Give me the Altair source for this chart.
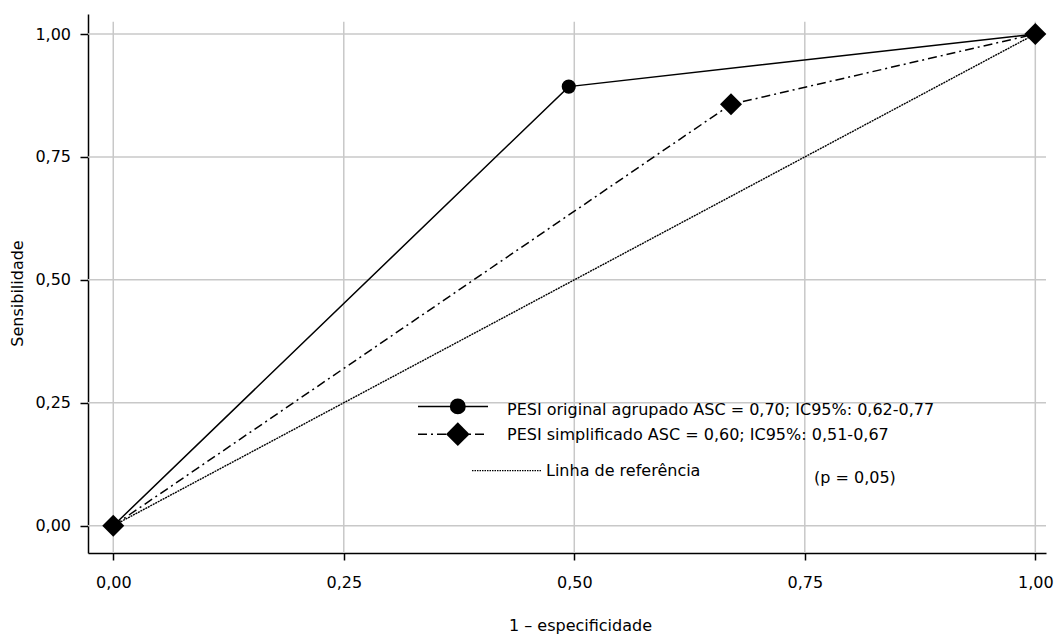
import altair as alt
import pandas as pd

# ---- data ----
x_original = [0.0, 0.494, 1.0]
y_original = [0.0, 0.893, 1.0]
x_simplificado = [0.0, 0.67, 1.0]
y_simplificado = [0.0, 0.857, 1.0]
x_referencia = [0.0, 1.0]
y_referencia = [0.0, 1.0]
ticks = [0.0, 0.25, 0.5, 0.75, 1.0]
legend_labels = [
    "PESI original agrupado ASC = 0,70; IC95%: 0,62-0,77",
    "PESI simplificado ASC = 0,60; IC95%: 0,51-0,67",
    "Linha de referência",
]
note_text = "(p = 0,05)"
x_title = "1 – especificidade"
y_title = "Sensibilidade"

FONT = "DejaVu Sans"
W, H = 958, 539
X_DOMAIN = [-0.0274, 1.0116]
Y_DOMAIN = [-0.0555, 1.0407]

df_o = pd.DataFrame({"x": x_original, "y": y_original})
df_s = pd.DataFrame({"x": x_simplificado, "y": y_simplificado})
df_r = pd.DataFrame({"x": x_referencia, "y": y_referencia})
df_tx = pd.DataFrame({"x": ticks})
df_ty = pd.DataFrame({"y": ticks})
one = pd.DataFrame({"k": [0]})

label_expr = "replace(format(datum.value, '.2f'), '.', ',')"

xaxis = alt.Axis(
    values=ticks, grid=False, labelExpr=label_expr,
    domainColor="black", domainWidth=1.5,
    tickColor="black", tickWidth=1.5, tickSize=7,
    labelFont=FONT, labelFontSize=16, labelColor="black", labelPadding=14,
    labelFlush=False, labelBound=False,
    titleFont=FONT, titleFontSize=16, titleFontWeight="normal", titleColor="black",
    titleX=492, titleY=72, titleAlign="center", titleBaseline="middle",
)
yaxis = alt.Axis(
    values=ticks, grid=False, labelExpr=label_expr,
    domainColor="black", domainWidth=1.5,
    tickColor="black", tickWidth=1.5, tickSize=8,
    labelFont=FONT, labelFontSize=16, labelColor="black", labelPadding=9.5,
    labelFlush=False, labelBound=False,
    titleFont=FONT, titleFontSize=16, titleFontWeight="normal", titleColor="black",
    titleAngle=270, titleX=-70.5, titleY=279, titleAlign="center", titleBaseline="middle",
)

xenc = alt.X("x:Q", scale=alt.Scale(domain=X_DOMAIN, nice=False, zero=False), axis=xaxis, title=x_title)
yenc = alt.Y("y:Q", scale=alt.Scale(domain=Y_DOMAIN, nice=False, zero=False), axis=yaxis, title=y_title)

GRID = "#c8c8c8"
grid_v = alt.Chart(df_tx).mark_rule(color=GRID, strokeWidth=1.5).encode(
    x=xenc, y=alt.value(7.7), y2=alt.value(H)
)
grid_h = alt.Chart(df_ty).mark_rule(color=GRID, strokeWidth=1.5).encode(
    y=yenc, x=alt.value(0), x2=alt.value(W)
)

ref_line = alt.Chart(df_r).mark_line(color="black", strokeWidth=1.4, strokeDash=[2, 0.8]).encode(x=xenc, y=yenc)
orig_line = alt.Chart(df_o).mark_line(color="black", strokeWidth=1.5).encode(x=xenc, y=yenc)
orig_pts = alt.Chart(df_o).mark_point(shape="circle", filled=True, size=200, color="black", opacity=1).encode(x=xenc, y=yenc)
simp_line = alt.Chart(df_s).mark_line(color="black", strokeWidth=1.5, strokeDash=[9, 4, 2, 4]).encode(x=xenc, y=yenc)
simp_pts = alt.Chart(df_s).mark_point(shape="diamond", filled=True, size=484, color="black", opacity=1).encode(x=xenc, y=yenc)

# ---- legend (drawn inside the plot, as in the reference) ----
def txt(s, x, y):
    return alt.Chart(one).mark_text(align="left", baseline="middle", font=FONT, fontSize=16, color="black").encode(
        x=alt.value(x), y=alt.value(y), text=alt.value(s)
    )

leg1_line = alt.Chart(one).mark_rule(color="black", strokeWidth=1.5).encode(x=alt.value(330), x2=alt.value(400), y=alt.value(392.4))
leg1_pt = alt.Chart(one).mark_point(shape="circle", filled=True, size=254, color="black", opacity=1).encode(x=alt.value(369.8), y=alt.value(392.4))
leg2_line = alt.Chart(one).mark_rule(color="black", strokeWidth=1.5, strokeDash=[9, 4, 2, 4]).encode(x=alt.value(330), x2=alt.value(400), y=alt.value(420.2))
leg2_pt = alt.Chart(one).mark_point(shape="diamond", filled=True, size=560, color="black", opacity=1).encode(x=alt.value(369.8), y=alt.value(420.2))
leg3_line = alt.Chart(one).mark_rule(color="black", strokeWidth=1.2, strokeDash=[1.5, 1]).encode(x=alt.value(384), x2=alt.value(454), y=alt.value(456.7))

chart = alt.layer(
    grid_v, grid_h, ref_line, orig_line, orig_pts, simp_line, simp_pts,
    leg1_line, leg1_pt, txt(legend_labels[0], 419, 396),
    leg2_line, leg2_pt, txt(legend_labels[1], 419, 421),
    leg3_line, txt(legend_labels[2], 458, 457),
    txt(note_text, 726, 464),
).properties(
    width=W, height=H,
    autosize=alt.AutoSizeParams(type="none"),
    padding={"left": 80, "top": 6, "right": 8, "bottom": 81},
    background="white",
).configure_view(stroke="transparent")

chart.save("out.html", embed_options={"renderer": "svg", "actions": False})
